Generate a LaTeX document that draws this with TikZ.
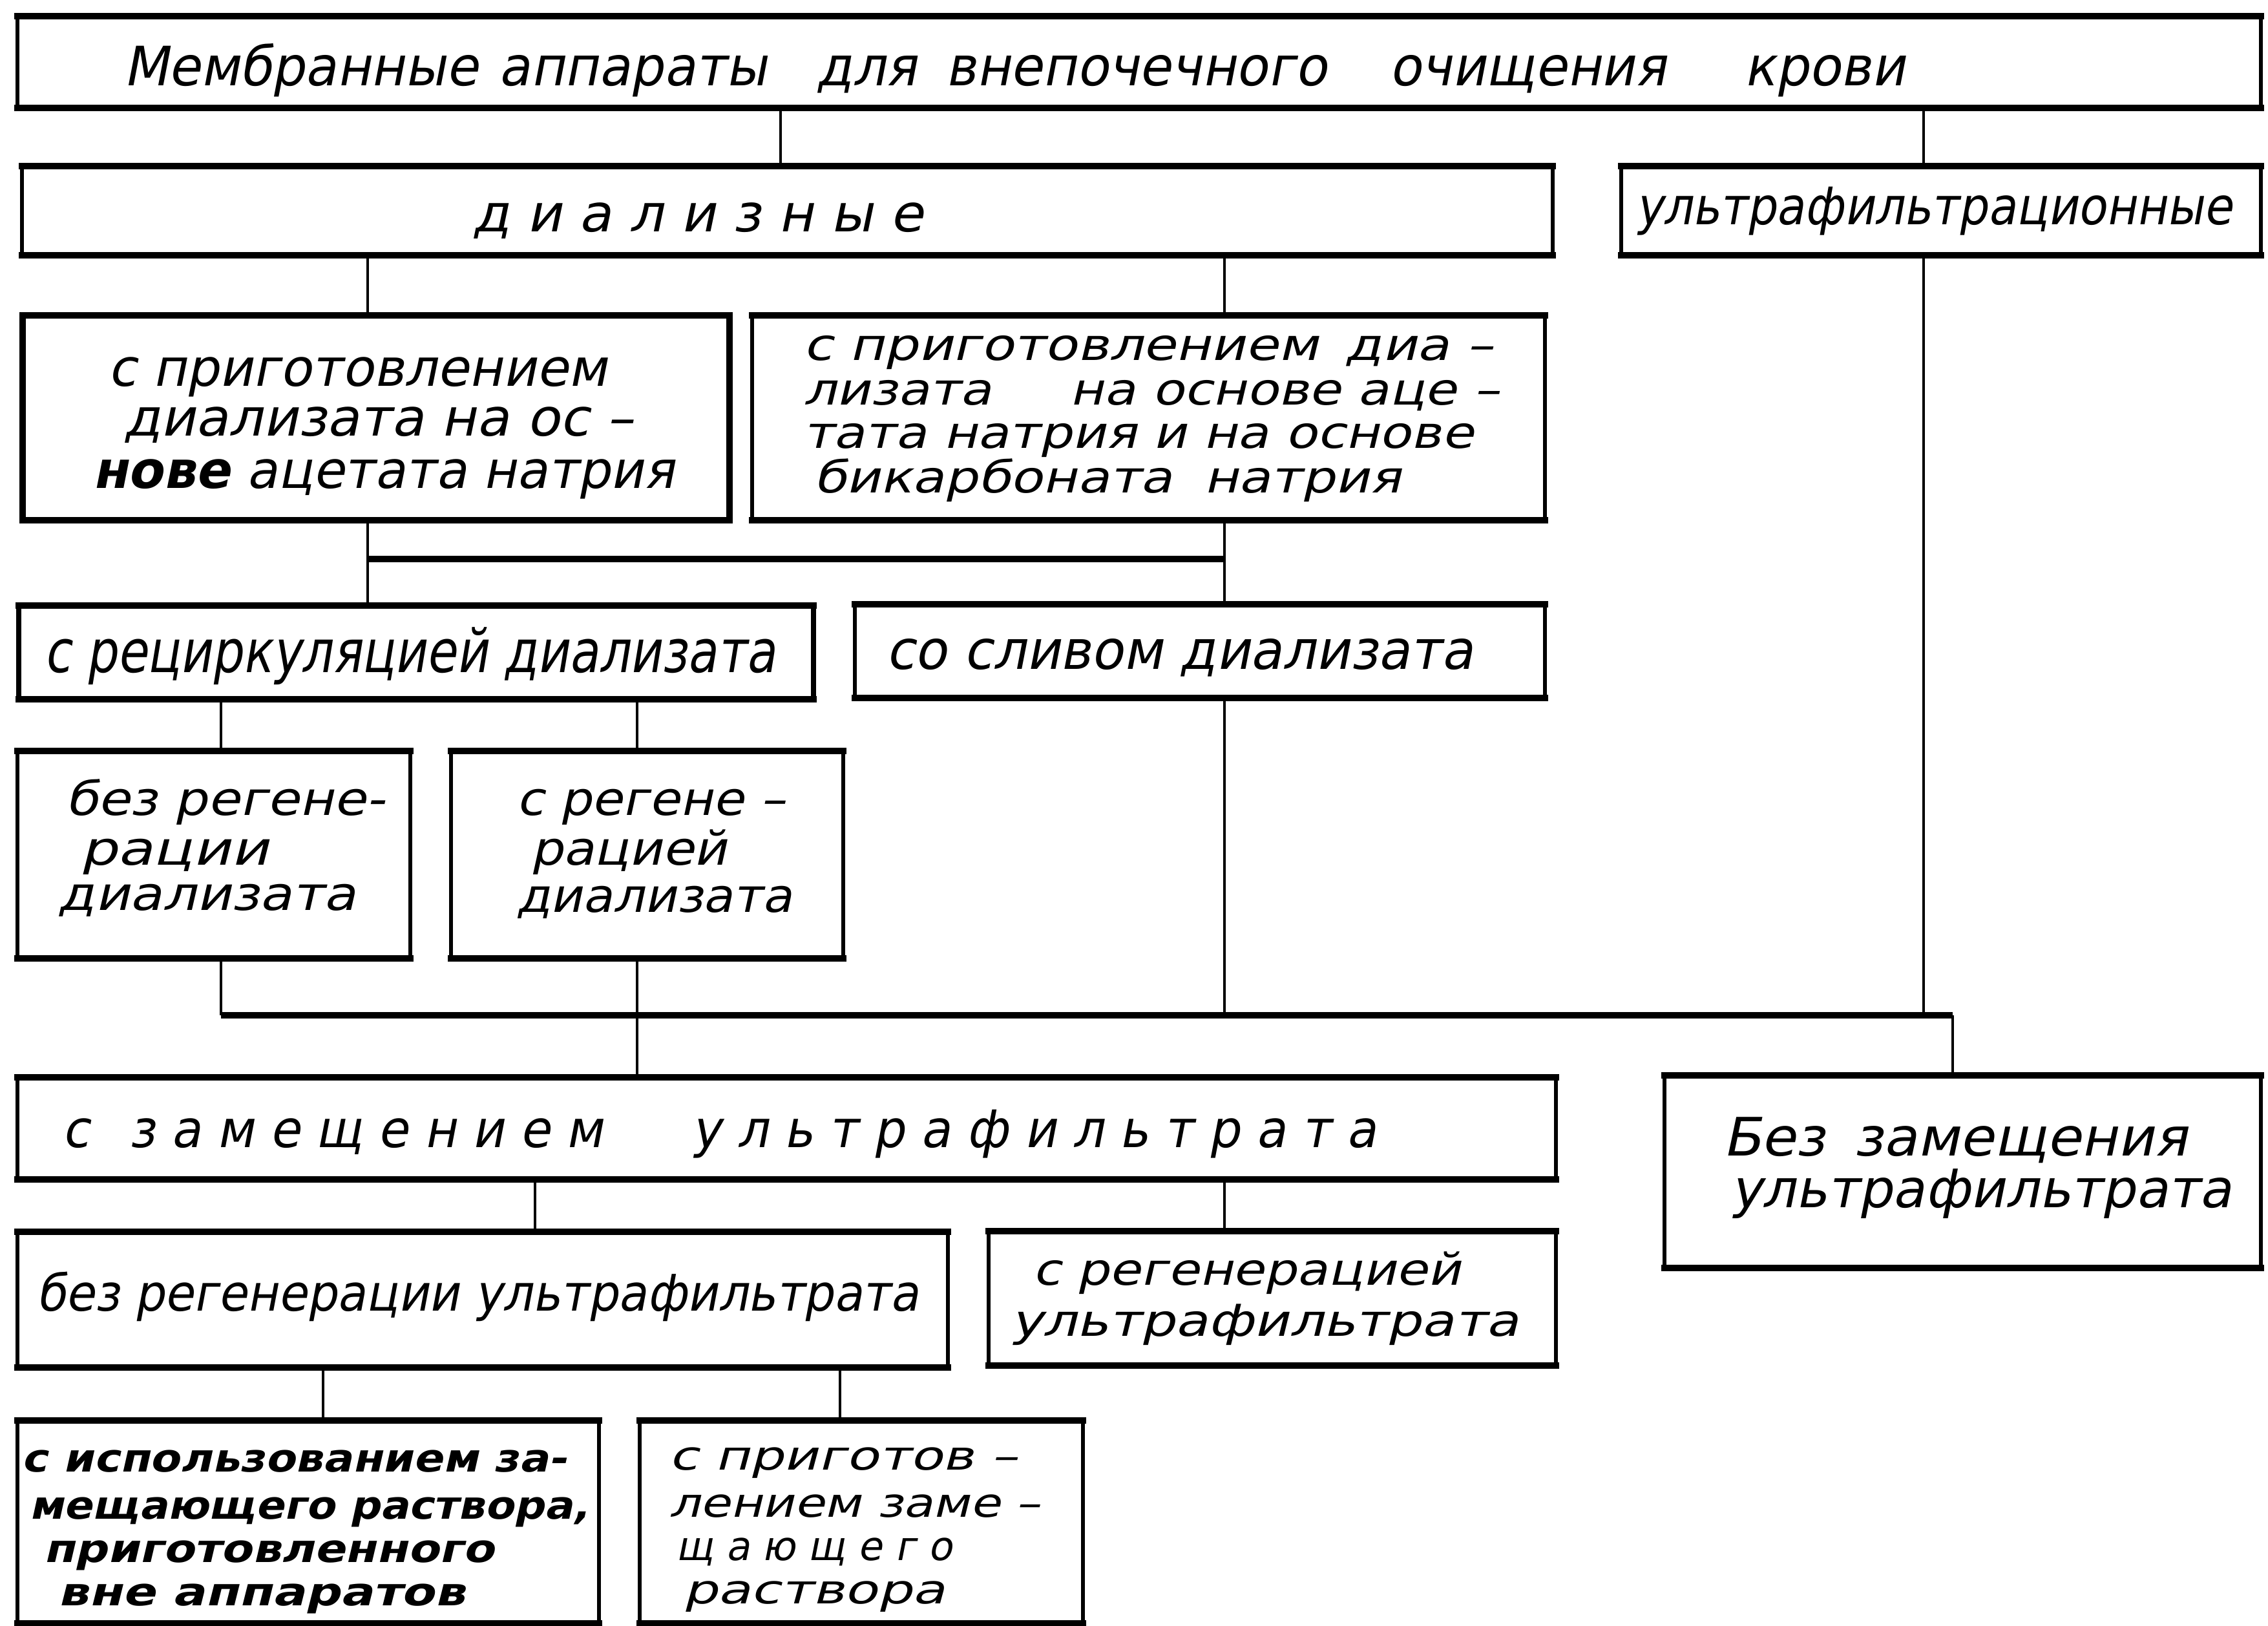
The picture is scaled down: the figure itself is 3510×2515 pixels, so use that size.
\documentclass[tikz,border=0pt]{standalone}
\usepackage{fontspec}
\setmainfont{DejaVu Sans}[FakeSlant=0.2]
\usepackage{graphicx}
\newdimen\pxu \pxu=0.25pt
\newcommand\fs[1]{\fontsize{#1}{#1}\selectfont}
\newcommand\fl[2]{\resizebox{#1\pxu}{\height}{#2}}
\tikzset{
  box/.style={draw, line width=1.5pt, inner sep=0pt, outer sep=0pt, rectangle},
  edge/.style={line width=2.6pt, line cap=rect},
  conn/.style={line width=1.2pt},
  busline/.style={line width=2.6pt},
  txt/.style={anchor=base west, inner sep=0pt, outer sep=0pt}
}
\newcommand\bx[6][]{\node[box,#1,minimum width={(#5-#3)*0.25pt},minimum height={(#6-#4)*0.25pt}] (#2) at ({(#3+#5)/2},{(#4+#6)/2}) {};
  \draw[edge] (#2.north west) -- (#2.north east) (#2.south west) -- (#2.south east);}
\newcommand\tx[7][]{\node[txt,font={\fs{#3}#1}] (#2) at (#4,#5) {\fl{#6}{#7}};}
\begin{document}
\begin{tikzpicture}[x=0.25pt,y=-0.25pt]
\useasboundingbox (0,0) rectangle (3510,2515);
% boxes
\bx{b1}{27}{25}{3499}{167}
\bx{b2}{34}{257}{2403}{395}
\bx{b3}{2509}{257}{3499}{395}
\bx[line width=2.4pt]{b4}{35}{488}{1129}{805}
\bx{b5}{1164}{488}{2391}{805}
\bx[line width=2.2pt]{b6}{29}{937}{1259}{1082}
\bx{b7}{1323}{935}{2391}{1080}
\bx{b8}{27}{1162}{635}{1483}
\bx{b9}{698}{1162}{1305}{1483}
\bx{b10}{27}{1667}{2408}{1825}
\bx{b11}{2576}{1664}{3499}{1962}
\bx{b12}{27}{1906}{1467}{2116}
\bx{b13}{1530}{1905}{2408}{2113}
\bx{b14}{27}{2198}{927}{2512}
\bx{b15}{990}{2198}{1676}{2512}
% texts
\tx{t1}{21}{191}{133}{2757}{Мембранные\hspace{0.4em}аппараты\hspace{0.95em}для\hspace{0.55em}внепочечного\hspace{1.2em}очищения\hspace{1.5em}крови}
\tx{t2}{20}{731}{358}{698}{д и а л и з н ы е}
\tx{t3}{20}{2531}{347}{923}{ультрафильтрационные}
\tx{t4a}{20}{167}{597}{773}{с приготовлением}
\tx{t4b}{20}{191}{674}{789}{диализата на ос –}
\tx{t4c}{20}{143}{755}{901}{\textbf{нове} ацетата натрия}
\tx{t5a}{17}{1243}{557}{1068}{с приготовлением\hspace{0.5em}диа –}
\tx{t5b}{17}{1243}{626}{1077}{лизата\hspace{1.5em}на основе аце –}
\tx{t5c}{17}{1243}{693}{1037}{тата натрия и на основе}
\tx{t5d}{17}{1259}{762}{909}{бикарбоната\hspace{0.6em}натрия}
\tx{t6}{23}{68}{1040}{1132}{с рециркуляцией диализата}
\tx{t7}{21}{1371}{1035}{909}{со сливом диализата}
\tx{t8a}{18}{101}{1261}{495}{без регене-}
\tx{t8b}{18}{124}{1338}{292}{рации}
\tx{t8c}{18}{90}{1408}{461}{диализата}
\tx{t9a}{18}{799}{1261}{416}{с регене –}
\tx{t9b}{18}{821}{1338}{304}{рацией}
\tx{t9c}{18}{799}{1411}{427}{диализата}
\tx{t10}{20}{96}{1775}{2034}{с\hspace{0.8em}з а м е щ е н и е м\hspace{1.8em}у л ь т р а ф и л ь т р а т а}
\tx{t11a}{20.5}{2666}{1788}{720}{Без\hspace{0.5em}замещения}
\tx{t11b}{20.5}{2678}{1868}{776}{ультрафильтрата}
\tx{t12}{19.5}{56}{2028}{1366}{без регенерации ультрафильтрата}
\tx{t13a}{17}{1598}{1988}{663}{с регенерацией}
\tx{t13b}{17}{1564}{2067}{787}{ультрафильтрата}
\tx[\bfseries]{t14a}{15}{34}{2277}{843}{с использованием за-}
\tx[\bfseries]{t14b}{15}{45}{2350}{866}{мещающего раствора,}
\tx[\bfseries]{t14c}{15}{67}{2417}{698}{приготовленного}
\tx[\bfseries]{t14d}{15}{90}{2484}{630}{вне аппаратов}
\tx{t15a}{15.5}{1035}{2274}{540}{с приготов –}
\tx{t15b}{15.5}{1035}{2347}{575}{лением заме –}
\tx{t15c}{15.5}{1046}{2414}{428}{щ а ю щ е г о}
\tx{t15d}{15.5}{1057}{2481}{406}{раствора}
% connector positions
\coordinate (xa) at (1208,0);
\coordinate (xu) at (2977,0);
\coordinate (jL) at (569,865);
\coordinate (jR) at (1895,865);
\coordinate (busL) at (342,1571);
\coordinate (busR) at (3022,1571);
\coordinate (x9) at (986,0);
\coordinate (x12) at (828,0);
\coordinate (x14) at (500,0);
\coordinate (x15) at (1300,0);
% connectors
\draw[conn] (b1.south -| xa) -- (b2.north -| xa);
\draw[conn] (b1.south -| xu) -- (b3.north -| xu);
\draw[conn] (b2.south -| jL) -- (b4.north -| jL);
\draw[conn] (b2.south -| jR) -- (b5.north -| jR);
\draw[conn] (b4.south -| jL) -- (b6.north -| jL);
\draw[conn] (b5.south -| jR) -- (b7.north -| jR);
\draw[busline] (jL) -- (jR);
\draw[conn] (b6.south -| busL) -- (b8.north -| busL);
\draw[conn] (b6.south -| x9) -- (b9.north -| x9);
\draw[conn] (b8.south -| busL) -- (busL);
\draw[conn] (b9.south -| x9) -- (busL -| x9) -- (b10.north -| x9);
\draw[conn] (b7.south -| jR) -- (busL -| jR);
\draw[conn] (b3.south -| xu) -- (busL -| xu);
\draw[busline] (busL) -- (busR);
\draw[conn] (busR) -- (b11.north -| busR);
\draw[conn] (b10.south -| x12) -- (b12.north -| x12);
\draw[conn] (b10.south -| jR) -- (b13.north -| jR);
\draw[conn] (b12.south -| x14) -- (b14.north -| x14);
\draw[conn] (b12.south -| x15) -- (b15.north -| x15);
\end{tikzpicture}
\end{document}
